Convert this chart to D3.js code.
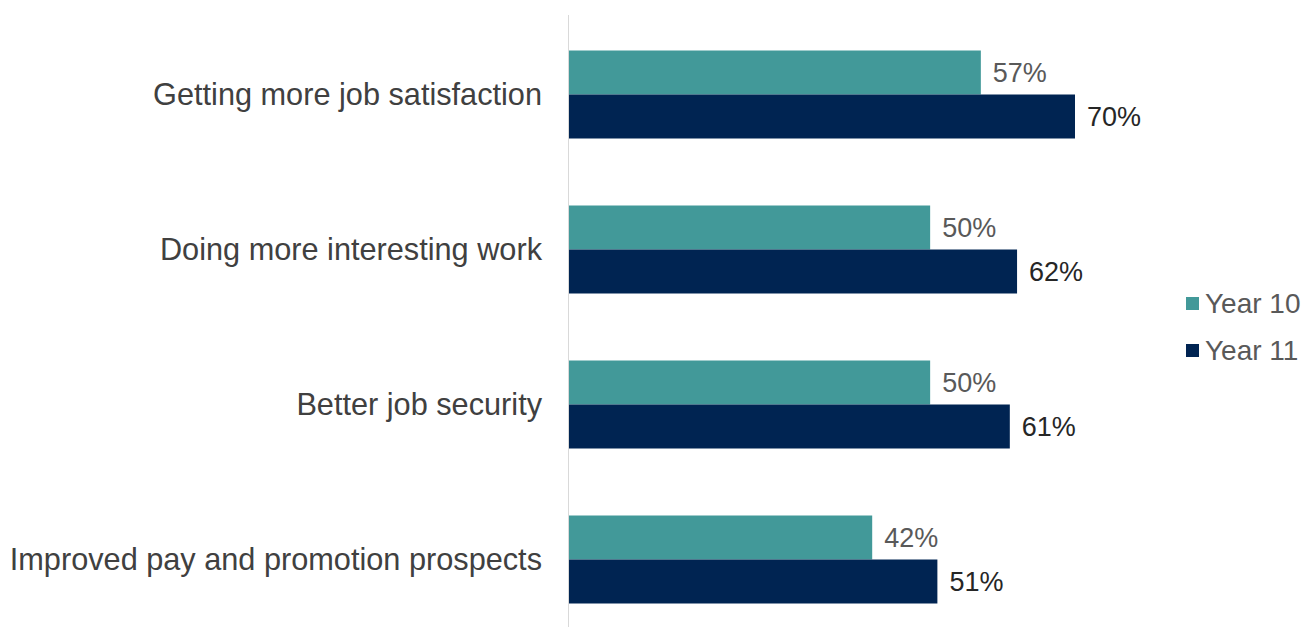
<!DOCTYPE html>
<html>
<head>
<meta charset="utf-8">
<script src="https://cdn.jsdelivr.net/npm/d3@7"></script>
<style>
  body { margin: 0; background: #fff; }
  svg text { font-family: "Liberation Sans", Arial, sans-serif; }
</style>
</head>
<body>
<div id="chart"></div>
<script>
// Data
const categories = [
  "Getting more job satisfaction",
  "Doing more interesting work",
  "Better job security",
  "Improved pay and promotion prospects"
];
const seriesNames = ["Year 10", "Year 11"];
const year10 = [57, 50, 50, 42];
const year11 = [70, 62, 61, 51];
const colors = ["#429999", "#002452"];
const labelColors = ["#595959", "#262626"];

const width = 1306, height = 627;

const svg = d3.select("#chart")
  .append("svg")
  .attr("width", width)
  .attr("height", height);

// Scales
const x = d3.scaleLinear()
  .domain([0, 70])
  .range([568, 1075]);

const y = d3.scaleBand()
  .domain(categories)
  .range([17, 637])
  .padding(0);

const ySub = d3.scaleBand()
  .domain(seriesNames)
  .range([33.5, 121.5])
  .padding(0);

const rows = categories.map((c, i) => ({
  category: c,
  values: [
    {series: "Year 10", value: year10[i], idx: 0},
    {series: "Year 11", value: year11[i], idx: 1}
  ]
}));

// Axis line
svg.append("line")
  .attr("x1", x(0) + 0.5)
  .attr("x2", x(0) + 0.5)
  .attr("y1", 15)
  .attr("y2", height)
  .attr("stroke", "#d9d9d9")
  .attr("stroke-width", 1);

// Bars
const groups = svg.selectAll(".group")
  .data(rows)
  .enter()
  .append("g")
  .attr("class", "group")
  .attr("transform", d => `translate(0,${y(d.category)})`);

groups.selectAll("rect")
  .data(d => d.values)
  .enter()
  .append("rect")
  .attr("x", x(0) + 1)
  .attr("y", d => ySub(d.series))
  .attr("width", d => x(d.value) - x(0) - 1)
  .attr("height", ySub.bandwidth())
  .attr("fill", d => colors[d.idx]);

groups.selectAll(".val")
  .data(d => d.values)
  .enter()
  .append("text")
  .attr("class", "val")
  .attr("x", d => x(d.value) + 12)
  .attr("y", d => ySub(d.series) + ySub.bandwidth() / 2)
  .attr("dy", "0.35em")
  .style("font-size", "27px")
  .attr("fill", d => labelColors[d.idx])
  .text(d => d.value + "%");

// Category labels
svg.selectAll(".cat")
  .data(categories)
  .enter()
  .append("text")
  .attr("class", "cat")
  .attr("x", 542)
  .attr("y", d => y(d) + y.bandwidth() / 2)
  .attr("dy", "0.35em")
  .attr("text-anchor", "end")
  .style("font-size", "30.7px")
  .attr("fill", "#404040")
  .text(d => d);

// Legend
const legend = svg.selectAll(".legend")
  .data(seriesNames)
  .enter()
  .append("g")
  .attr("class", "legend")
  .attr("transform", (d, i) => `translate(1186,${303 + i * 47})`);

legend.append("rect")
  .attr("x", 0)
  .attr("y", -6)
  .attr("width", 13)
  .attr("height", 13)
  .attr("fill", (d, i) => colors[i]);

legend.append("text")
  .attr("x", 19)
  .attr("y", 0)
  .attr("dy", "0.35em")
  .style("font-size", "28px")
  .attr("fill", "#595959")
  .text(d => d);
</script>
</body>
</html>
